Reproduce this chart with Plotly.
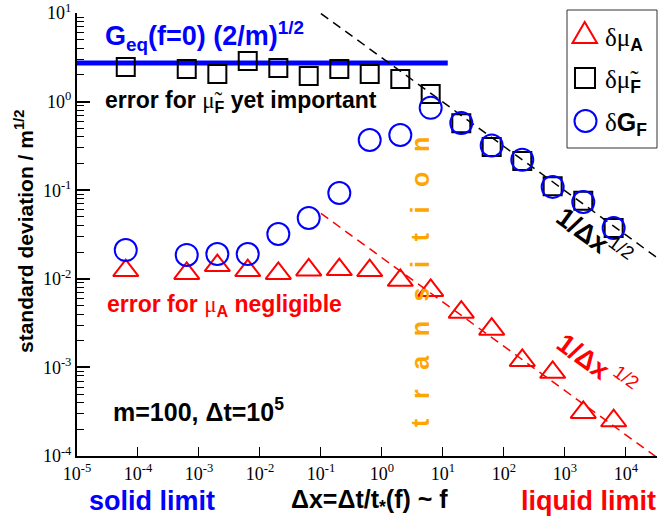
import plotly.graph_objects as go

# Δx sampling (Δt / t*(f))
dx = [6.3e-5, 6.3e-4, 2e-3, 6.3e-3, 2e-2, 6.3e-2, 0.2, 0.63,
      2.0, 6.3, 20.0, 63.0, 200.0, 630.0, 2000.0, 6300.0]

# standard deviations / m^1/2
d_mu_A = [0.0124, 0.0115, 0.0141, 0.0124, 0.0115, 0.0126, 0.0127, 0.0124,
          0.0096, 0.0074, 0.0042, 0.0027, 0.0012, 0.00088, 0.00031, 0.00025]
d_mu_F = [2.45, 2.33, 2.05, 2.87, 2.40, 1.95, 2.33, 2.05,
          1.80, 1.22, 0.57, 0.308, 0.214, 0.111, 0.076, 0.0374]
d_G_F = [0.0211, 0.0186, 0.019, 0.019, 0.032, 0.0485, 0.093, 0.369,
         0.42, 0.85, 0.575, 0.32, 0.22, 0.109, 0.0736, 0.0374]

# equilibrium level G_eq(f=0) (2/m)^1/2 and 1/sqrt(Δx) guides
g_eq_level = 2.73
g_eq_span = [1e-5, 12.0]
fit_span = [0.1, 10 ** 4.5]
fit_amp_F = 3.12
fit_amp_A = 0.0173

x_ticks = [1e-5, 1e-4, 1e-3, 1e-2, 1e-1, 1e0, 1e1, 1e2, 1e3, 1e4]
x_ticktext = ["10<sup>-5</sup>", "10<sup>-4</sup>", "10<sup>-3</sup>", "10<sup>-2</sup>",
              "10<sup>-1</sup>", "10<sup>0</sup>", "10<sup>1</sup>", "10<sup>2</sup>",
              "10<sup>3</sup>", "10<sup>4</sup>"]
y_ticks = [1e-4, 1e-3, 1e-2, 1e-1, 1e0, 1e1]
y_ticktext = ["10<sup>-4</sup>", "10<sup>-3</sup>", "10<sup>-2</sup>",
              "10<sup>-1</sup>", "10<sup>0</sup>", "10<sup>1</sup>"]

SANS = "Liberation Sans"
SERIF = "Liberation Serif"
RED = "#ff0000"
BLUE = "#0000ff"
ORANGE = "#ffa500"

# canvas and plot-area geometry (pixels)
W, H = 658, 519
L, R, T, B = 77, 1, 13, 63


def px(xp):
    return (xp - L) / (W - L - R)


def py(yp):
    return (H - B - yp) / (H - T - B)


fig = go.Figure()

# horizontal equilibrium line
fig.add_trace(go.Scatter(x=g_eq_span, y=[g_eq_level, g_eq_level], mode="lines",
                         line=dict(color=BLUE, width=5), showlegend=False))
# 1/sqrt(Δx) guides
fig.add_trace(go.Scatter(x=fit_span, y=[fit_amp_F / v ** 0.5 for v in fit_span], mode="lines",
                         line=dict(color="black", width=1.5, dash="9px,6px"), showlegend=False))
fig.add_trace(go.Scatter(x=fit_span, y=[fit_amp_A / v ** 0.5 for v in fit_span], mode="lines",
                         line=dict(color=RED, width=1.5, dash="9px,6px"), showlegend=False))

fig.add_trace(go.Scatter(x=dx, y=d_mu_A, mode="markers", showlegend=False,
                         marker=dict(symbol="triangle-up-open", size=22, color=RED,
                                     line=dict(width=2, color=RED))))
fig.add_trace(go.Scatter(x=dx, y=d_mu_F, mode="markers", showlegend=False,
                         marker=dict(symbol="square-open", size=18, color="black",
                                     line=dict(width=2, color="black"))))
fig.add_trace(go.Scatter(x=dx, y=d_G_F, mode="markers", showlegend=False,
                         marker=dict(symbol="circle-open", size=22, color=BLUE,
                                     line=dict(width=2, color=BLUE))))

ann = []


def note(text, x, y, size, color, xanchor="left", angle=0, family=SANS):
    ann.append(dict(text=text, x=px(x), y=py(y), xref="paper", yref="paper", showarrow=False,
                    xanchor=xanchor, yanchor="middle", textangle=angle,
                    font=dict(family=family, size=size, color=color)))


def serif(s):
    return "<span style='font-family:Liberation Serif'>" + s + "</span>"


gap = "\u2002\u2009\u200a"
note("<b>G<sub>eq</sub>(f=0) (2/m)<sup>1/2</sup></b>", 103, 36, 27, BLUE)
note("<b>error for </b>" + serif("μ̃") + "<sub><b>F</b></sub><b> yet important</b>",
     103, 101, 23, "black")
note("<b>error for </b>" + serif("μ") + "<sub><b>A</b></sub><b> negligible</b>",
     105, 305, 23, RED)
note("<b>m=100, Δt=10<sup>5</sup></b>", 111, 410, 25, "black")
note("<b>" + gap.join("transition") + "</b>", 420, 282, 25, ORANGE,
     xanchor="center", angle=-90)
note("<b>1/Δx</b><sup>1/2</sup>", 594, 236, 27, "black", xanchor="center", angle=36)
note("<b>1/Δx</b><sup> 1/2</sup>", 597, 364, 27, RED, xanchor="center", angle=36)
note("<b>standard deviation / m<sup>1/2</sup></b>", 24, 232, 21, "black",
     xanchor="center", angle=-90)
note("<b>solid limit</b>", 87, 501, 27, BLUE)
note("<b>Δx=Δt/t<sub>*</sub>(f) ~ f</b>", 289, 501, 25, "black")
note("<b>liquid limit</b>", 658, 501, 27, RED, xanchor="right")

# legend box with its symbols and labels
shapes = [
    dict(type="rect", xref="paper", yref="paper", x0=px(567), x1=px(657), y0=py(148), y1=py(10),
         line=dict(color="#333333", width=1), fillcolor="white", layer="above"),
    dict(type="path", xref="paper", yref="paper",
         path="M {:.5f} {:.5f} L {:.5f} {:.5f} L {:.5f} {:.5f} Z".format(
             px(572.5), py(43), px(597), py(43), px(584.7), py(22)),
         line=dict(color=RED, width=2), layer="above"),
    dict(type="rect", xref="paper", yref="paper", x0=px(575), x1=px(595), y0=py(88), y1=py(68),
         line=dict(color="black", width=2), layer="above"),
    dict(type="circle", xref="paper", yref="paper", x0=px(574.5), x1=px(596.5), y0=py(132), y1=py(110),
         line=dict(color=BLUE, width=2), layer="above"),
]
note(serif("δμ") + "<sub><b>A</b></sub>", 603, 39, 25, "black")
note(serif("δμ̃") + "<sub><b>F</b></sub>", 603, 81, 25, "black")
note(serif("δ") + "<b>G</b><sub><b>F</b></sub>", 603, 124, 25, "black")

fig.update_layout(
    width=W, height=H,
    margin=dict(l=L, r=R, t=T, b=B),
    paper_bgcolor="white", plot_bgcolor="white",
    font=dict(family=SERIF, size=18, color="black"),
    annotations=ann,
    shapes=shapes,
    showlegend=False,
    xaxis=dict(type="log", range=[-5, 4.51], showgrid=False, zeroline=False,
               showline=True, linecolor="black", linewidth=2, mirror=False,
               ticks="inside", ticklen=9, tickwidth=1, tickcolor="black",
               tickvals=x_ticks, ticktext=x_ticktext,
               tickfont=dict(family=SERIF, size=18, color="black")),
    yaxis=dict(type="log", range=[-4, 1], showgrid=False, zeroline=False,
               showline=True, linecolor="black", linewidth=2, mirror=False,
               ticks="inside", ticklen=13, tickwidth=1.5, tickcolor="black",
               tickvals=y_ticks, ticktext=y_ticktext,
               tickfont=dict(family=SERIF, size=18, color="black"),
               minor=dict(ticks="inside", ticklen=7, tickwidth=1, tickcolor="black",
                          dtick="D1", showgrid=False)),
)

fig.write_html("out.html")
